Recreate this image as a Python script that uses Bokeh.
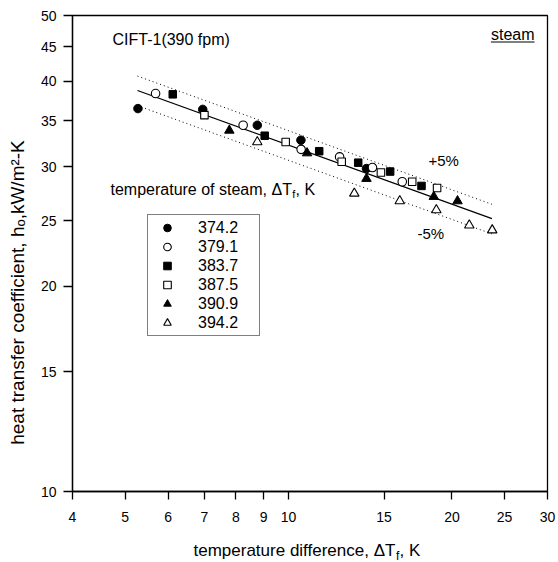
import math
from bokeh.plotting import figure
from bokeh.models import Range1d, FixedTicker, Label, Legend, LegendItem, Arrow
from bokeh.embed import file_html
from bokeh.resources import INLINE

# ---------------- data ----------------
x_ticks = [4, 5, 6, 7, 8, 9, 10, 15, 20, 25, 30]
x_tick_labels = ["4", "5", "6", "7", "8", "9", "10", "15", "20", "25", "30"]
y_ticks = [10, 15, 20, 25, 30, 35, 40, 45, 50]
y_tick_labels = ["10", "15", "20", "25", "30", "35", "40", "45", "50"]

series_names = ["374.2", "379.1", "383.7", "387.5", "390.9", "394.2"]

x_3742 = [5.28, 6.95, 8.76, 10.54, 13.92]
y_3742 = [36.5, 36.4, 34.5, 32.8, 29.8]
x_3791 = [5.69, 8.25, 10.55, 12.42, 14.28, 16.2]
y_3791 = [38.4, 34.5, 31.8, 31.0, 29.9, 28.5]
x_3837 = [6.12, 9.04, 11.39, 13.44, 15.39, 17.58]
y_3837 = [38.3, 33.3, 31.6, 30.4, 29.5, 28.1]
x_3875 = [7.00, 9.88, 12.53, 14.80, 16.90, 18.78]
y_3875 = [35.7, 32.6, 30.5, 29.4, 28.5, 27.9]
x_3909 = [7.78, 10.82, 13.92, 18.52, 20.48]
y_3909 = [33.9, 31.4, 28.8, 27.1, 26.7]
x_3942 = [8.76, 13.22, 16.03, 18.72, 21.53, 23.73]
y_3942 = [32.6, 27.4, 26.7, 25.9, 24.6, 24.2]

fit_x = [5.27, 23.7]
fit_y = [38.8, 25.15]
band_plus = 1.05
band_minus = 0.95

FONT = "Liberation Sans"
X0, X1, Y0, Y1 = 4, 30, 10, 50

p = figure(width=558, height=562, x_axis_type="log", y_axis_type="log",
           x_range=Range1d(X0, X1), y_range=Range1d(Y0, Y1),
           output_backend="svg", toolbar_location=None,
           min_border_left=72, min_border_right=11, min_border_top=15, min_border_bottom=71)
p.background_fill_color = "white"
p.border_fill_color = "white"
p.outline_line_color = "black"
p.outline_line_width = 1.3
p.xgrid.visible = False
p.ygrid.visible = False

for ax, ticks, labs in ((p.xaxis[0], x_ticks, x_tick_labels), (p.yaxis[0], y_ticks, y_tick_labels)):
    ax.ticker = FixedTicker(ticks=ticks)
    ax.major_label_overrides = dict(zip(ticks, labs))
    ax.axis_line_color = "black"
    ax.axis_line_width = 1.3
    ax.major_tick_line_color = "black"
    ax.major_tick_line_width = 1.3
    ax.major_tick_in = 0
    ax.minor_tick_line_color = None
    ax.major_label_text_font = FONT
    ax.major_label_text_font_size = "14px"
    ax.major_label_text_color = "black"
p.xaxis.major_tick_out = 8
p.yaxis.major_tick_out = 9
p.xaxis.major_label_standoff = 12
p.yaxis.major_label_standoff = 7

# fit line and +/-5% bands
p.line(fit_x, fit_y, line_color="black", line_width=1.3)
p.line(fit_x, [v * band_plus for v in fit_y], line_color="black", line_width=1, line_dash="1 3")
p.line(fit_x, [v * band_minus for v in fit_y], line_color="black", line_width=1, line_dash="1 3")

r1 = p.scatter(x_3742, y_3742, marker="circle", size=8.5, fill_color="black", line_color="black")
r2 = p.scatter(x_3791, y_3791, marker="circle", size=8.5, fill_color="white", line_color="black", line_width=1.1)
r3 = p.scatter(x_3837, y_3837, marker="square", size=7.5, fill_color="black", line_color="black")
r4 = p.scatter(x_3875, y_3875, marker="square", size=7.5, fill_color="white", line_color="black", line_width=1.1)
r5 = p.scatter(x_3909, y_3909, marker="triangle", size=9.5, fill_color="black", line_color="black")
r6 = p.scatter(x_3942, y_3942, marker="triangle", size=9.5, fill_color="white", line_color="black", line_width=1.1)
renderers = [r1, r2, r3, r4, r5, r6]

legend = Legend(items=[LegendItem(label=n, renderers=[r]) for n, r in zip(series_names, renderers)],
                location=(75, 155), margin=0, padding=3, spacing=0,
                glyph_width=32, glyph_height=19, label_height=19, label_width=58,
                label_standoff=15, label_text_font=FONT, label_text_font_size="16px",
                label_text_color="black", border_line_color="black", border_line_width=1.2,
                background_fill_color="white", background_fill_alpha=1.0)
p.add_layout(legend)

# ---------------- text annotations (placed by page pixel, vertical centre) ----------------
FL, FB = 72, 491   # frame left / bottom on the page


def txt(text, px, py, size, align="left", angle=0.0, place="center"):
    lab = Label(x=X0, y=Y0, x_offset=px - FL, y_offset=FB - py, text=text,
                text_font=FONT, text_font_size=f"{size}px", text_color="black",
                text_align=align, text_baseline="middle", angle=angle)
    p.add_layout(lab, place)


txt("CIFT-1(390 fpm)", 112, 38.8, 16)
txt("steam", 534, 33.8, 16, align="right")
txt("+5%", 428, 159.8, 15)
txt("-5%", 417, 233, 15)

# legend title with subscript
txt("temperature of steam, \u0394T", 110, 188.5, 16)
txt("f", 291.7, 193.2, 11)
txt(", K", 295.1, 188.5, 16)

# x axis title (pieces so that f is a real subscript)
txt("temperature difference, \u0394T", 193, 549.6, 17, place="below")
txt("f", 395.5, 555.0, 12, place="right")
txt(", K", 399.0, 549.6, 17, place="below")

# y axis title (rotated)
txt("heat transfer coefficient, h\u2092,kW/m\u00b2-K", 16.7, 292, 19, align="center",
    angle=math.pi / 2, place="left")


# underline of "steam"
def px2x(px):
    return 10 ** (math.log10(X0) + (px - 72) / (547 - 72) * math.log10(X1 / X0))


def py2y(py):
    return 10 ** (math.log10(Y0) + (491 - py) / (491 - 15) * math.log10(Y1 / Y0))


p.add_layout(Arrow(end=None, x_start=px2x(490.4), y_start=py2y(41.5), x_end=px2x(534),
                   y_end=py2y(41.5), line_color="black", line_width=1))

open("out.html", "w").write(file_html(p, INLINE, title="plot"))
